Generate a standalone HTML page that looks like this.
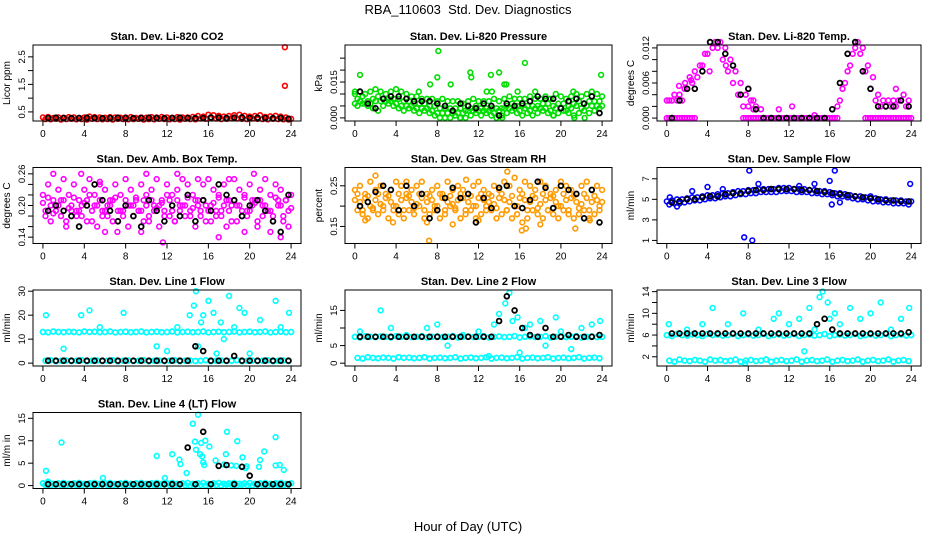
<!DOCTYPE html>
<html><head><meta charset="utf-8"><style>
html,body{margin:0;padding:0;background:#fff;}
svg{display:block;font-family:"Liberation Sans",Arial,sans-serif;}
</style></head><body>
<svg id="chart" width="936" height="540" viewBox="0 0 936 540">
<text x="468" y="14" text-anchor="middle" font-size="13" style="white-space:pre">RBA_110603  Std. Dev. Diagnostics</text>
<text x="468" y="531" text-anchor="middle" font-size="13">Hour of Day (UTC)</text>
</svg>
<script>
const xTicks=[0,4,8,12,16,20,24];
const co2A=[.30,.32,.28,.30,.29,.31,.30,.28,.30,.33,.31,.30,.29,.31,.30,.29,.30,.31,.28,.30,.29,.31,.30,.32,.30,.29,.31,.30,.30,.32,.35,.33,.40,.38,.36,.33,.35,.38,.40,.36,.33,.35,.38,.32,.34,.36,.33,.30,.25];
const co2B=[.24,.23,.25,.22,.24,.25,.23,.24,.22,.25,.24,.23,.24,.22,.25,.24,.23,.24,.25,.22,.24,.23,.25,.24,.23,.24,.22,.25,.24,.23,.26,.25,.27,.26,.24,.25,.27,.26,.25,.24,.26,.25,.24,.23,.25,.24,.23,.22,.20];
const co2Extra=[[23.4,2.85],[23.4,1.45]];
const co2Black=[.28,.29,.28,.27,.28,.29,.28,.27,.28,.29,.28,.27,.28,.29,.28,.27,.28,.29,.28,.27,.28,.30,.29,.28,.29,.30,.28,.29,.28,.27,.28,.25];
const prA=[.010,.011,.010,.011,.012,.011,.010,.011,.012,.011,.010,.009,.009,.008,.008,.008,.007,.008,.007,.007,.007,.006,.007,.008,.007,.007,.007,.008,.007,.008,.009,.008,.008,.008,.009,.008,.008,.009,.008,.010,.009,.008,.009,.010,.009,.010,.011,.010,.009];
const prB=[.005,.006,.005,.004,.003,.005,.006,.005,.004,.003,.004,.003,.002,.003,.002,.001,.000,.000,.000,.001,.000,.000,.001,.002,.001,.002,.001,.000,.001,.002,.003,.002,.001,.002,.001,.002,.003,.002,.001,.002,.003,.002,.001,.002,.003,.002,.003,.004,.003];
const prC=[.008,.009,.007,.008,.009,.008,.008,.008,.008,.007,.007,.006,.006,.006,.005,.005,.004,.004,.004,.004,.004,.003,.004,.005,.004,.004,.004,.004,.004,.005,.006,.005,.005,.005,.005,.005,.006,.006,.005,.006,.006,.005,.006,.007,.006,.007,.007,.007,.006];
const prD=[.006,.007,.006,.006,.007,.007,.007,.007,.006,.005,.005,.005,.004,.004,.004,.003,.002,.002,.002,.002,.002,.002,.003,.003,.003,.003,.003,.002,.003,.004,.004,.004,.003,.004,.003,.004,.004,.004,.003,.004,.004,.003,.004,.005,.004,.005,.005,.005,.005];
const prExtra=[[0.5,.018],[0,.011],[6.2,.011],[7.3,.014],[8,.017],[8.1,.028],[9.3,.014],[11.2,.019],[11.3,.017],[13.2,.018],[13.3,.011],[12.8,.011],[14,.019],[14.5,.014],[14.7,.014],[16.5,.023],[15.8,.011],[17.5,.011],[21.2,.011],[23.9,.018],[19.3,.001],[21.3,0],[22.3,0],[14.3,0],[10.2,0]];
const prBlack=[.011,.006,.004,.008,.009,.009,.008,.007,.007,.007,.006,.005,.003,.006,.005,.004,.006,.005,.001,.006,.005,.006,.007,.009,.008,.008,.004,.007,.008,.006,.009,.002];
const tmZero=[0,0,0,0,0,0,null,null,null,null,null,null,null,null,null,0,0,0,0,0,0,0,0,0,0,0,0,0,0,0,0,0,0,0,null,null,null,null,null,0,0,0,0,0,0,0,0,0,0];
const tmHump=[.003,.004,.004,.005,.007,.008,.009,.011,.013,.013,.013,.012,.010,.008,.006,.004,.003,.002,.0015,null,null,null,null,null,null,null,null,null,null,null,null,null,null,.002,.005,.008,.011,.013,.012,.009,.007,.004,.003,.003,.003,.003,.004,.003,null];
const tmLow=[.003,.003,.003,.003,.005,.006,.007,.009,.011,.012,.012,.010,.008,.006,.004,.002,.002,.0015,null,null,null,null,null,null,null,null,null,null,null,null,null,null,null,null,.003,.006,.009,.012,.011,.008,.005,.003,.002,.002,.002,.002,.003,.002,null];
const tmExtra=[[1.2,.0055],[1.8,.006],[2.4,.0065],[8,.005],[8.5,.003],[11,.0015],[12.3,.002],[14.5,.0005],[22.5,.005],[5.8,.009],[4.2,.008]];
const tmBlack=[0,.003,.005,.005,.008,.013,.013,.011,.009,.004,.005,.0015,0,0,0,0,0,0,0,0,0,.0015,.006,.011,.013,.008,.005,.002,.002,.002,.003,.002];
const abA=[.22,.24,.21,.23,.25,.22,.24,.21,.23,.25,.22,.24,.23,.21,.24,.22,.25,.23,.21,.24,.22,.23,.25,.21,.24,.22,.23,.25,.24,.22,.21,.24,.25,.23,.22,.24,.21,.25,.23,.22,.24,.21,.23,.25,.22,.24,.23,.21,.22];
const abB=[.19,.17,.20,.18,.16,.19,.18,.20,.17,.19,.16,.18,.20,.17,.19,.18,.16,.20,.19,.17,.18,.20,.16,.19,.18,.17,.20,.18,.19,.16,.18,.20,.17,.19,.18,.16,.20,.17,.19,.18,.20,.16,.18,.19,.17,.20,.18,.16,.19];
const abC=[.205,.215,.185,.20,.21,.195,.215,.19,.205,.22,.20,.21,.19,.20,.215,.19,.21,.20,.215,.19,.20,.21,.195,.205,.22,.19,.21,.20,.215,.195,.20,.21,.19,.205,.215,.20,.19,.21,.20,.215,.19,.205,.21,.20,.19,.215,.20,.21,.195];
const abD=[.18,.20,.19,.21,.17,.20,.19,.18,.21,.17,.20,.19,.18,.21,.17,.19,.20,.18,.19,.21,.17,.19,.20,.18,.21,.17,.19,.20,.18,.21,.19,.17,.20,.18,.19,.21,.17,.20,.18,.19,.21,.17,.20,.19,.18,.21,.17,.19,.20];
const abExtra=[[1,.26],[3.7,.26],[6,.15],[7.2,.15],[9.5,.15],[10,.26],[11.6,.13],[13,.26],[15,.25],[17,.14],[18,.25],[19.5,.15],[20.4,.26],[22,.15],[23,.14],[5.5,.245]];
const abBlack=[.19,.20,.19,.18,.16,.20,.24,.21,.19,.17,.20,.18,.16,.21,.19,.17,.20,.18,.22,.17,.21,.19,.24,.22,.21,.18,.20,.21,.19,.17,.15,.22];
const rhA=[.24,.25,.23,.26,.24,.25,.23,.24,.26,.25,.23,.24,.25,.26,.23,.24,.25,.23,.26,.24,.25,.24,.23,.25,.26,.24,.23,.25,.24,.26,.25,.27,.24,.26,.25,.24,.26,.25,.23,.24,.26,.25,.24,.23,.25,.26,.24,.25,.24];
const rhB=[.19,.18,.17,.19,.18,.20,.17,.19,.18,.17,.19,.18,.20,.17,.18,.19,.17,.18,.20,.19,.17,.18,.19,.17,.18,.20,.19,.17,.18,.19,.17,.18,.16,.17,.19,.18,.17,.19,.18,.17,.19,.18,.17,.18,.19,.17,.18,.19,.18];
const rhC=[.215,.21,.22,.20,.215,.205,.22,.21,.20,.215,.22,.21,.205,.22,.21,.215,.20,.22,.21,.205,.215,.22,.21,.20,.22,.215,.21,.205,.22,.215,.21,.20,.22,.215,.21,.22,.205,.215,.22,.21,.20,.215,.22,.21,.205,.22,.21,.215,.21];
const rhD=[.23,.19,.225,.195,.23,.19,.225,.2,.23,.19,.225,.195,.23,.19,.225,.2,.23,.19,.225,.195,.23,.19,.225,.2,.23,.19,.225,.195,.23,.19,.225,.2,.23,.19,.225,.195,.23,.19,.225,.2,.23,.19,.225,.195,.23,.19,.225,.2,.23];
const rhExtra=[[1,.165],[2,.275],[3.7,.16],[7.2,.115],[7,.16],[9.5,.155],[14.8,.285],[16.2,.14],[16.6,.145],[18,.155],[21.4,.145],[22.8,.165],[12,.165],[5,.26],[10.8,.265]];
const rhBlack=[.20,.21,.235,.25,.24,.19,.25,.20,.23,.17,.19,.22,.245,.22,.23,.16,.22,.195,.245,.25,.20,.195,.215,.26,.245,.195,.25,.24,.23,.17,.24,.16];
const sfA=[4.8,4.9,5.0,5.0,5.1,5.2,5.2,5.3,5.4,5.4,5.5,5.6,5.6,5.7,5.8,5.8,5.9,5.9,6.0,6.0,6.0,6.0,6.1,6.1,6.1,6.0,6.0,6.0,5.9,5.9,5.8,5.8,5.7,5.6,5.6,5.5,5.4,5.3,5.3,5.2,5.1,5.1,5.0,5.0,4.9,4.9,4.9,4.8,4.8];
const sfB=[4.5,4.6,4.6,4.7,4.8,4.9,4.9,5.0,5.1,5.1,5.2,5.3,5.3,5.4,5.5,5.5,5.6,5.6,5.7,5.7,5.7,5.7,5.8,5.8,5.8,5.7,5.7,5.7,5.6,5.6,5.5,5.5,5.4,5.3,5.3,5.2,5.1,5.0,5.0,4.9,4.8,4.8,4.7,4.7,4.6,4.6,4.6,4.5,4.5];
const sfExtra=[[2.5,5.8],[4,6.2],[5.5,6],[7.6,1.3],[8.4,1.0],[8.1,7.8],[9,6.5],[13,6.3],[14.5,6.5],[16,6.8],[16.5,7.8],[16.2,4.5],[17,4.7],[20,5.3],[23.9,6.5],[0.3,5.2],[1,4.3]];
const sfBlack=[4.7,4.8,5.0,5.0,5.2,5.3,5.3,5.5,5.6,5.6,5.8,5.9,5.9,6.0,6.0,6.0,6.0,5.9,5.9,5.8,5.7,5.6,5.5,5.4,5.3,5.2,5.1,5.0,4.9,4.9,4.8,4.8];
const l1A=[13,12.8,13.2,13,12.9,13.1,13,12.8,13.2,13,13.1,12.9,13,13.2,12.8,13,13.1,12.9,13,13.2,12.8,13,13.1,12.9,13,13.2,12.8,13,13.1,12.9,13,13.2,12.8,13,13.1,12.9,13,13.2,12.8,13,13.1,12.9,13,13.2,12.8,13,13.1,12.9,13];
const l1B=[1,1.2,0.8,1,1.1,0.9,1,1.2,0.8,1,1.1,0.9,1,1.2,0.8,1,1.1,0.9,1,1.2,0.8,1,1.1,0.9,1,1.2,0.8,1,1.1,0.9,1,1.2,0.8,1,1.1,0.9,1,1.2,0.8,1,1.1,0.9,1,1.2,0.8,1,1.1,0.9,1];
const l1Extra=[[0.3,20],[2,6],[3.7,20],[4.5,22],[5.5,15],[7.8,21],[11,7],[13,15],[14.2,20],[14.6,24],[14.8,30],[15,7],[15.3,17],[15.5,20],[16,26],[16.5,21],[17.2,17],[18,28],[18.5,15],[19,23],[19.5,21],[20,4],[21,18],[22.5,26],[23,15],[23.8,21],[12,5],[17.5,10],[16.8,4]];
const l1Black=[1,1,1,1,1,1,1,1,1,1,1,1,1,1,1,1,1,1,1,7,5,1,1,1,3,1,1,1,1,1,1,1];
const l2A=[7.5,7.3,7.7,7.5,7.4,7.6,7.5,7.3,7.7,7.5,7.6,7.4,7.5,7.7,7.3,7.5,7.6,7.4,7.5,7.7,7.3,7.5,7.6,7.4,7.5,7.7,7.3,7.5,7.6,7.4,7.5,7.7,7.3,7.5,7.6,7.4,7.5,7.7,7.3,7.5,7.6,7.4,7.5,7.7,7.3,7.5,7.6,7.4,7.5];
const l2B=[1.5,1.3,1.7,1.5,1.4,1.6,1.5,1.3,1.7,1.5,1.6,1.4,1.5,1.7,1.3,1.5,1.6,1.4,1.5,1.7,1.3,1.5,1.6,1.4,1.5,1.7,1.3,1.5,1.6,1.4,1.5,1.7,1.3,1.5,1.6,1.4,1.5,1.7,1.3,1.5,1.6,1.4,1.5,1.7,1.3,1.5,1.6,1.4,1.5];
const l2Extra=[[0.5,9],[2.5,15],[3.5,10],[5,8],[7,10],[8,11],[10.5,8],[12,9],[13.5,11],[14,14],[14.6,17],[15,20],[15.3,12],[15.8,13],[16.5,10],[17,11],[18,12],[18.5,5],[19.5,13],[20,9],[21,4],[22,10],[23,11],[23.8,12],[16,3],[13,2],[9,5]];
const l2Black=[7.5,7.5,7.5,7.5,7.5,7.5,7.5,7.5,7.5,7.5,7.5,7.5,7.5,7.5,7.5,7.5,7.5,7.5,12,19,15,10,8,7.5,10,7.5,7.5,8,7.5,7.5,7.5,8];
const l3A=[6,5.8,6.2,6,5.9,6.1,6,5.8,6.2,6,6.1,5.9,6,6.2,5.8,6,6.1,5.9,6,6.2,5.8,6,6.1,5.9,6,6.2,5.8,6,6.1,5.9,6,6.2,5.8,6,6.1,5.9,6,6.2,5.8,6,6.1,5.9,6,6.2,5.8,6,6.1,5.9,6];
const l3B=[1.3,1.1,1.5,1.3,1.2,1.4,1.3,1.1,1.5,1.3,1.4,1.2,1.3,1.5,1.1,1.3,1.4,1.2,1.3,1.5,1.1,1.3,1.4,1.2,1.3,1.5,1.1,1.3,1.4,1.2,1.3,1.5,1.1,1.3,1.4,1.2,1.3,1.5,1.1,1.3,1.4,1.2,1.3,1.5,1.1,1.3,1.4,1.2,1.3];
const l3Extra=[[0.2,8],[2,7],[3.5,8],[4.5,11],[6,8],[7.5,10],[9,7],[10.5,9],[11,10],[12,8],[13,9],[14,11],[14.5,7],[15,13],[15.3,14],[15.8,12],[16,9],[16.5,10],[17,8],[18,11],[19,9],[20,10],[21,12],[22,7],[23,9],[23.8,11],[7.7,0.8],[13.5,3]];
const l3Black=[6.3,6.3,6.3,6.3,6.3,6.3,6.3,6.3,6.3,6.3,6.3,6.3,6.3,6.3,6.3,6.3,6.3,6.3,6.3,8,9,7,6.3,6.3,6.3,6.3,6.3,6.3,6.3,6.3,6.3,6.5];
const l4A=[0.5,0.6,0.4,0.5,0.6,0.4,0.5,0.6,0.4,0.5,0.6,0.4,0.5,0.6,0.4,0.5,0.6,0.4,0.5,0.6,0.4,0.5,0.6,0.4,0.5,0.6,0.4,0.5,0.6,0.4,0.5,0.6,0.4,0.5,0.6,0.4,0.5,0.6,0.4,0.5,0.6,0.4,0.5,0.6,0.4,0.5,0.6,0.4,0.5];
const l4B=[0.1,0.0,0.2,0.1,0.0,0.2,0.1,0.0,0.2,0.1,0.0,0.2,0.1,0.0,0.2,0.1,0.0,0.2,0.1,0.0,0.2,0.1,0.0,0.2,0.1,0.0,0.2,0.1,0.0,0.2,0.1,0.0,0.2,0.1,0.0,0.2,0.1,0.0,0.2,0.1,0.0,0.2,0.1,0.0,0.2,0.1,0.0,0.2,0.1];
const l4Extra=[[0.3,3.3],[0.5,0.9],[1.8,9.6],[5.8,1.7],[11,6.6],[11.8,1.7],[12.5,7],[13.2,5.8],[13.3,4.8],[13.9,2.8],[14.5,13.8],[14.7,9.8],[14.8,8],[15,15.8],[15.2,7],[15.3,9.5],[15.4,6.5],[15.5,5.2],[15.7,10],[15.6,4.6],[16.1,8.7],[16.7,5.6],[17.7,7],[17.8,12],[17.5,4.7],[18.2,4.5],[18.7,4.4],[18.8,9.9],[19.3,6.3],[19.6,3.9],[19.7,4.3],[20.9,4.2],[21,5.7],[21.4,7.6],[22.5,10.8],[22.5,4.5],[22.9,4.6],[23.3,3.5]];
const l4Black=[0.3,0.3,0.3,0.3,0.3,0.3,0.3,0.3,0.3,0.3,0.3,0.3,0.3,0.3,0.3,0.3,0.3,0.3,8.5,0.3,12,0.3,4.4,4.6,0.3,4.2,2.2,0.3,0.3,0.3,0.3,0.3];

const NS='http://www.w3.org/2000/svg';
const svg=document.getElementById('chart');
function mk(tag,attrs,parent){const e=document.createElementNS(NS,tag);for(const k in attrs)e.setAttribute(k,attrs[k]);(parent||svg).appendChild(e);return e;}
const colX=[[33,301],[345,612],[657,921]];
const rowY=[45,167.5,290,412.5];
const H=76;
const panels=[
 {name:'co2',title:'Stan. Dev. Li-820 CO2',yl:'Licor ppm',r:0,c:0,ymin:.17,ymax:2.93,ticks:[.5,1,1.5,2,2.5],labels:['0.5','','1.5','','2.5'],col:'#ff0000',bands:[co2A,co2B],extra:co2Extra,black:co2Black},
 {name:'pressure',title:'Stan. Dev. Li-820 Pressure',yl:'kPa',r:0,c:1,ymin:-.0013,ymax:.0305,ticks:[0,.005,.01,.015,.02,.025],labels:['0.000','','','0.015','',''],col:'#00dd00',bands:[prA,prC,prD,prB],extra:prExtra,black:prBlack},
 {name:'li820-temp',title:'Stan. Dev. Li-820 Temp.',yl:'degrees C',r:0,c:2,ymin:-.0005,ymax:.0125,ticks:[0,.002,.004,.006,.008,.01,.012],labels:['0.000','','','0.006','','','0.012'],col:'#ff00ff',bands:[tmZero,tmHump,tmLow,tmZero],extra:tmExtra,black:tmBlack},
 {name:'amb-box-temp',title:'Stan. Dev. Amb. Box Temp.',yl:'degrees C',r:1,c:0,ymin:.128,ymax:.272,ticks:[.14,.16,.18,.2,.22,.24,.26],labels:['0.14','','','0.20','','','0.26'],col:'#ff00ff',bands:[abA,abB,abC,abD],extra:abExtra,black:abBlack},
 {name:'gas-stream-rh',title:'Stan. Dev. Gas Stream RH',yl:'percent',r:1,c:1,ymin:.108,ymax:.295,ticks:[.15,.2,.25],labels:['0.15','','0.25'],col:'#ff9a00',bands:[rhA,rhB,rhC,rhD],extra:rhExtra,black:rhBlack},
 {name:'sample-flow',title:'Stan. Dev. Sample Flow',yl:'ml/min',r:1,c:2,ymin:.7,ymax:8.1,ticks:[1,3,5,7],labels:['1','3','5','7'],col:'#0000ff',bands:[sfA,sfB],extra:sfExtra,black:sfBlack},
 {name:'line1-flow',title:'Stan. Dev. Line 1 Flow',yl:'ml/min',r:2,c:0,ymin:-1.2,ymax:30.5,ticks:[0,10,20,30],labels:['0','10','20','30'],col:'#00ffff',bands:[l1A,l1B,l1A,l1B],extra:l1Extra,black:l1Black},
 {name:'line2-flow',title:'Stan. Dev. Line 2 Flow',yl:'ml/min',r:2,c:1,ymin:-.8,ymax:20.8,ticks:[0,5,10,15],labels:['0','5','','15'],col:'#00ffff',bands:[l2A,l2B,l2A,l2B],extra:l2Extra,black:l2Black},
 {name:'line3-flow',title:'Stan. Dev. Line 3 Flow',yl:'ml/min',r:2,c:2,ymin:.3,ymax:14.3,ticks:[2,4,6,8,10,12,14],labels:['2','','6','','10','','14'],col:'#00ffff',bands:[l3A,l3B,l3A,l3B],extra:l3Extra,black:l3Black},
 {name:'line4-flow',title:'Stan. Dev. Line 4 (LT) Flow',yl:'ml/m in',r:3,c:0,ymin:-.65,ymax:16.3,ticks:[0,5,10,15],labels:['0','5','10','15'],col:'#00ffff',bands:[l4A,l4B,l4A,l4B],extra:l4Extra,black:l4Black}
];
panels.forEach(p=>{
 const [L,R]=colX[p.c];const T=rowY[p.r];const B=T+H;
 const g=mk('g',{});
 
 
 const xs=v=>L+(R-L)*(v+0.96)/25.92;
 const ys=v=>B-(B-T)*(v-p.ymin)/(p.ymax-p.ymin);
 const t=mk('text',{x:(L+R)/2,y:T-5,'text-anchor':'middle','font-size':'11','font-weight':'bold'},g);
 t.textContent=p.title;
 
 
 const clip=mk('g',{},g);
 const dot=(x,y,col,sw)=>{if(y===null||x>24.05)return;const cy=ys(y);if(cy<T-3||cy>B+3)return;const c=mk('circle',{cx:xs(x).toFixed(1),cy:cy.toFixed(1),r:2.4,fill:'none',stroke:col,'stroke-width':sw},clip);
  
  };
 p.bands.forEach((b,k)=>b.forEach((v,i)=>dot(i*0.5+(k%2)*0.25,v,p.col,1.6)));
 p.extra.forEach(e=>dot(e[0],e[1],p.col,1.6));
 p.black.forEach((v,i)=>dot(0.5+i*0.75,v,'#000',1.8));
 const box=mk('rect',{x:L,y:T,width:R-L,height:H,fill:'none',stroke:'#000','stroke-width':1},g);
 
 
 xTicks.forEach(v=>{const x=xs(v);mk('line',{x1:x,x2:x,y1:B,y2:B+5,stroke:'#000'},g);
  const tl=mk('text',{x:x,y:B+16,'text-anchor':'middle','font-size':'10'},g);tl.textContent=v;
  
  });
 p.ticks.forEach((v,i)=>{const y=ys(v);mk('line',{x1:L-5,x2:L,y1:y,y2:y,stroke:'#000'},g);
  if(p.labels[i]){const tl=mk('text',{x:L-8,y:y,'text-anchor':'middle','font-size':'9.5',transform:`rotate(-90 ${L-8} ${y})`},g);tl.textContent=p.labels[i];
  
  }});
 const yt=mk('text',{x:L-23,y:(T+B)/2,'text-anchor':'middle','font-size':'10',transform:`rotate(-90 ${L-23} ${(T+B)/2})`},g);
 yt.textContent=p.yl;
 
 
});
</script>
</body></html>
